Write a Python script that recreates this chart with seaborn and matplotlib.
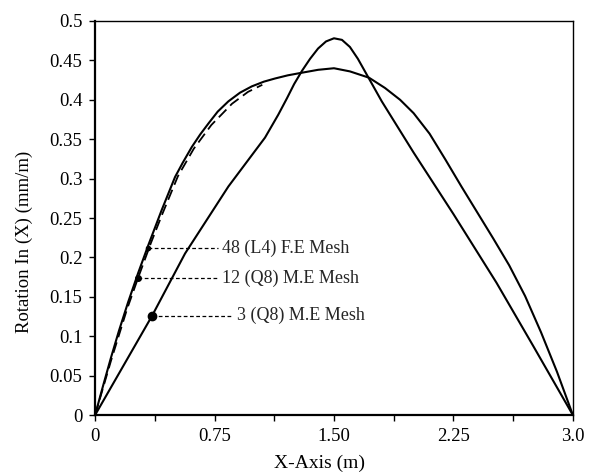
import seaborn as sns
import matplotlib
matplotlib.use('Agg')
import matplotlib.pyplot as plt

sns.set_style("ticks")
plt.rcParams['font.family'] = ['Liberation Serif', 'DejaVu Serif']

# 48 (L4) F.E mesh - outer smooth curve
fe_x = [0, 0.05, 0.1, 0.15, 0.207, 0.27, 0.335, 0.418, 0.502, 0.55, 0.607, 0.66, 0.712,
        0.77, 0.837, 0.91, 0.984, 1.06, 1.13, 1.21, 1.29, 1.4, 1.5, 1.6, 1.72, 1.82,
        1.915, 2.0, 2.1, 2.2, 2.3, 2.4, 2.5, 2.6, 2.7, 2.8, 2.9, 3.0]
fe_y = [0, 0.037, 0.073, 0.107, 0.143, 0.18, 0.216, 0.26, 0.302, 0.32, 0.34, 0.356, 0.37,
        0.385, 0.398, 0.409, 0.417, 0.423, 0.427, 0.431, 0.434, 0.438, 0.44, 0.436, 0.428, 0.415,
        0.40, 0.383, 0.357, 0.324, 0.29, 0.257, 0.224, 0.19, 0.151, 0.105, 0.055, 0]

# 12 (Q8) M.E mesh - dashed, merges with F.E curve
me12_x = [0, 0.1, 0.2, 0.27, 0.35, 0.42, 0.52, 0.62, 0.73, 0.86, 0.96, 1.05]
me12_y = [0, 0.069, 0.134, 0.174, 0.218, 0.254, 0.303, 0.338, 0.368, 0.395, 0.41, 0.419]

# 3 (Q8) M.E mesh - sharper peak
me3_x = [0, 0.358, 0.565, 0.837, 1.067, 1.15, 1.205, 1.25, 1.30, 1.35, 1.40, 1.45, 1.5, 1.55,
         1.6, 1.65, 1.70, 1.75, 1.8, 2.0, 2.25, 2.52, 2.75, 3.0]
me3_y = [0, 0.126, 0.205, 0.29, 0.352, 0.381, 0.402, 0.42, 0.437, 0.452, 0.465, 0.474, 0.478, 0.476,
         0.467, 0.452, 0.434, 0.416, 0.398, 0.333, 0.255, 0.168, 0.088, 0]

# annotation points (x, y) and labels
ann_pts = [(0.335, 0.212), (0.27, 0.174), (0.358, 0.126)]
ann_labels = ['48 (L4) F.E Mesh', '12 (Q8) M.E Mesh', '3 (Q8) M.E Mesh']
ann_text_x = [0.80, 0.80, 0.89]

x_ticks = [0, 0.375, 0.75, 1.125, 1.5, 1.875, 2.25, 2.625, 3.0]
x_labels = ['0', '', '0.75', '', '1.50', '', '2.25', '', '3.0']
y_ticks = [0, 0.05, 0.1, 0.15, 0.2, 0.25, 0.3, 0.35, 0.4, 0.45, 0.5]
y_labels = ['0', '0.05', '0.1', '0.15', '0.2', '0.25', '0.3', '0.35', '0.4', '0.45', '0.5']

fig = plt.figure(figsize=(5.98, 4.76), dpi=100)
ax = fig.add_axes([0.159, 0.128, 0.799, 0.828])

sns.lineplot(x=fe_x, y=fe_y, color='black', linewidth=1.5, ax=ax)
sns.lineplot(x=me12_x, y=me12_y, color='black', linewidth=1.3, linestyle=(0, (6, 3)), ax=ax)
sns.lineplot(x=me3_x, y=me3_y, color='black', linewidth=1.5, ax=ax)

sizes = [3, 4, 6]
for (px, py), lab, tx, ms in zip(ann_pts, ann_labels, ann_text_x, sizes):
    ax.plot([px], [py], 'o', color='black', markersize=ms)
    ax.plot([px, tx - 0.03], [py, py], color='black', linewidth=0.9, linestyle=(0, (3, 2)))
    ax.text(tx, py, lab, fontsize=13, va='center', ha='left')

ax.set_xlim(0, 3.0)
ax.set_ylim(0, 0.5)
ax.set_xticks(x_ticks)
ax.set_xticklabels(x_labels)
ax.set_yticks(y_ticks)
ax.set_yticklabels(y_labels)
ax.tick_params(labelsize=13.5, length=4, width=1, color='black', labelcolor='black', pad=5)
ax.set_xlabel('X-Axis (m)', fontsize=14, color='black')
ax.set_ylabel('Rotation In (X) (mm/m)', fontsize=13.5, color='black')
ax.xaxis.set_label_coords(0.47, -0.10)
ax.yaxis.set_label_coords(-0.13, 0.44)
for side in ['left', 'bottom']:
    ax.spines[side].set_linewidth(1.6)
for side in ['top', 'right']:
    ax.spines[side].set_linewidth(1.0)
for s in ax.spines.values():
    s.set_color('black')

fig.savefig('out.png', dpi=100)
